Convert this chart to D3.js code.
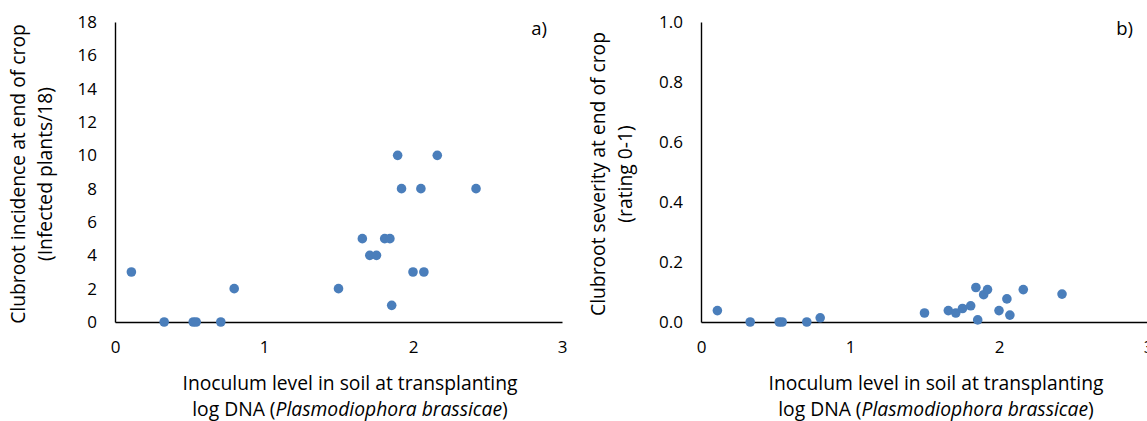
<!DOCTYPE html>
<html>
<head>
<meta charset="utf-8">
<script src="https://cdn.jsdelivr.net/npm/d3@7"></script>
<style>
  body { margin: 0; background: #fff; }
  svg { display: block; font-family: 'Open Sans', sans-serif; }
</style>
</head>
<body>
<div class="svg-container"></div>
<script>
// log DNA at transplanting, shared by both panels
const inoculum = [0.11, 0.33, 0.525, 0.545, 0.71, 0.80, 1.50, 1.66, 1.71, 1.755,
  1.81, 1.845, 1.857, 1.897, 1.923, 2.00, 2.053, 2.073, 2.163, 2.423]
const incidence = [3, 0, 0, 0, 0, 2, 2, 5, 4, 4,
  5, 5, 1, 10, 8, 3, 8, 3, 10, 8]
const severity = [0.038, 0, 0, 0, 0, 0.014, 0.03, 0.038, 0.03, 0.045,
  0.054, 0.115, 0.007, 0.091, 0.108, 0.038, 0.077, 0.023, 0.108, 0.093]

const xTicks = [0, 1, 2, 3]
const incidenceTicks = [0, 2, 4, 6, 8, 10, 12, 14, 16, 18]
const severityTicks = [0, 0.2, 0.4, 0.6, 0.8, 1.0]

const svgWidth = 1147
const svgHeight = 421
const dotColor = '#4a7ebb'

const svg = d3
  .select('.svg-container')
  .append('svg')
  .attr('width', svgWidth)
  .attr('height', svgHeight)

drawPanel({
  left: 115,
  yValues: incidence,
  yDomain: [0, 18],
  yTicks: incidenceTicks,
  yFormat: d3.format('d'),
  yTitle: ['Clubroot incidence at end of crop', '(Infected plants/18)'],
  titleX: 19,
  tag: 'a)'
})

drawPanel({
  left: 701,
  yValues: severity,
  yDomain: [0, 1],
  yTicks: severityTicks,
  yFormat: d3.format('.1f'),
  yTitle: ['Clubroot severity at end of crop', '(rating 0-1)'],
  titleX: 599,
  tag: 'b)'
})

function drawPanel(opts) {
  const top = 22
  const bottom = 322
  const width = 447

  const xScale = d3.scaleLinear([0, 3], [opts.left, opts.left + width])
  const yScale = d3.scaleLinear(opts.yDomain, [bottom, top])

  const g = svg.append('g')

  const xAxis = g
    .append('g')
    .attr('transform', `translate(0, ${bottom})`)
    .call(d3.axisBottom(xScale).tickValues(xTicks).tickSize(0).tickPadding(19).tickFormat(d3.format('d')))
  xAxis.select('.domain').attr('stroke', '#000').attr('stroke-width', 1.4)
  xAxis.selectAll('text').style('font-size', '17px').attr('fill', '#000').attr('font-family', 'Open Sans')

  const yAxis = g
    .append('g')
    .attr('transform', `translate(${opts.left}, 0)`)
    .call(d3.axisLeft(yScale).tickValues(opts.yTicks).tickSize(0).tickPadding(18).tickFormat(opts.yFormat))
  yAxis.select('.domain').attr('stroke', '#000').attr('stroke-width', 1.4)
  yAxis.selectAll('text').style('font-size', '17px').attr('fill', '#000').attr('font-family', 'Open Sans')

  // x title, two lines
  const cx = opts.left + 235
  g.append('text')
    .attr('x', cx)
    .attr('y', 390)
    .attr('text-anchor', 'middle')
    .style('font-size', '19.3px')
    .text('Inoculum level in soil at transplanting')

  const line2 = g.append('text')
    .attr('x', cx)
    .attr('y', 416)
    .attr('text-anchor', 'middle')
    .style('font-size', '19.3px')
  line2.append('tspan').text('log DNA (')
  line2.append('tspan').style('font-style', 'italic').text('Plasmodiophora brassicae')
  line2.append('tspan').text(')')

  // y title, rotated
  opts.yTitle.forEach((t, i) => {
    g.append('text')
      .attr('transform', `translate(${opts.titleX + i * 27 + 6}, ${(top + bottom) / 2 + 2}) rotate(-90)`)
      .attr('text-anchor', 'middle')
      .style('font-size', '19.3px')
      .text(t)
  })

  g.append('text')
    .attr('x', opts.left + 432)
    .attr('y', 35)
    .attr('text-anchor', 'end')
    .style('font-size', '18.5px')
    .text(opts.tag)

  g.selectAll('.dot')
    .data(inoculum)
    .join('circle')
    .classed('dot', true)
    .attr('cx', (d) => xScale(d))
    .attr('cy', (d, i) => yScale(opts.yValues[i]))
    .attr('r', 4.8)
    .attr('fill', dotColor)
}
</script>
</body>
</html>
